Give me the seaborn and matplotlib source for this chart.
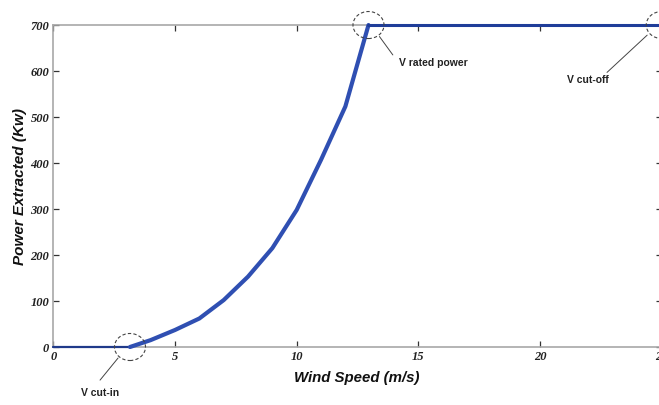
import numpy as np
import pandas as pd
import matplotlib
matplotlib.use("Agg")
import matplotlib.pyplot as plt
import seaborn as sns
from matplotlib.patches import Ellipse

# -------------------------------------------------------------
# data
# -------------------------------------------------------------
idle_speed = [0, 3.15]
idle_power = [0, 0]

ramp_speed = [3.15, 4, 5, 6, 7, 8, 9, 10, 11, 12, 12.95]
ramp_power = [0, 15, 37, 62, 102, 153, 215, 298, 407, 523, 700]

rated_speed = [12.95, 25]
rated_power = [700, 700]

x_ticks = [0, 5, 10, 15, 20, 25]
y_ticks = [0, 100, 200, 300, 400, 500, 600, 700]

# marked points: (label, x, y)
marks = [("V cut-in", 3.15, 0), ("V rated power", 12.95, 700), ("V cut-off", 25, 700)]

sns.set_theme(style="white")
plt.rcParams["font.family"] = ["Liberation Sans", "DejaVu Sans"]

fig = plt.figure(figsize=(6.59, 4.05), dpi=100)
ax = fig.add_axes([0.0809, 0.1432, 0.9233, 0.795])

df_idle = pd.DataFrame({"speed": idle_speed, "power": idle_power})
df_ramp = pd.DataFrame({"speed": ramp_speed, "power": ramp_power})
df_rated = pd.DataFrame({"speed": rated_speed, "power": rated_power})

sns.lineplot(data=df_idle, x="speed", y="power", ax=ax, color="#1f3a8a", lw=1.6,
             clip_on=False, zorder=3)
sns.lineplot(data=df_ramp, x="speed", y="power", ax=ax, color="#2f4fb2", lw=3.0,
             solid_joinstyle="miter", clip_on=False, zorder=3)
sns.lineplot(data=df_rated, x="speed", y="power", ax=ax, color="#1f3d99", lw=2.2,
             clip_on=False, zorder=3)

ax.set_xlim(0, 25)
ax.set_ylim(0, 700)
ax.set_xticks(x_ticks)
ax.set_yticks(y_ticks)

for s in ax.spines.values():
    s.set_visible(True)
    s.set_color("#a8a8a8")
    s.set_linewidth(1.2)

ax.tick_params(direction="in", length=4, width=0.9, color="#333333",
               top=True, right=True, bottom=True, left=True, pad=3)
for lab in ax.get_xticklabels() + ax.get_yticklabels():
    lab.set_fontfamily("Liberation Serif")
    lab.set_fontweight("bold")
    lab.set_fontstyle("italic")
    lab.set_fontsize(9)
    lab.set_color("#222222")

ax.set_xlabel("Wind Speed (m/s)", fontsize=10.8, fontweight="bold", fontstyle="italic",
              color="#111111")
ax.set_ylabel("Power Extracted (Kw)", fontsize=11, fontweight="bold", fontstyle="italic",
              color="#111111")
ax.xaxis.set_label_coords(0.498, -0.073)
ax.yaxis.set_label_coords(-0.043, 0.5)

# dashed circles around the marked points
w = 31 / 24.33
h = 27 / 0.4596
for label, x, y in marks:
    ax.add_patch(Ellipse((x, y), w, h, fill=False, ls=(0, (3, 2)), lw=0.8,
                         ec="#444444", clip_on=False, zorder=5))

# leader lines and labels
lead = dict(arrowstyle="-", color="#444444", lw=0.7, shrinkA=0, shrinkB=0)
ax.annotate("", xy=(2.66, -24), xytext=(1.92, -72), annotation_clip=False, arrowprops=lead)
ax.text(1.92, -100, "V cut-in", fontsize=7.5, fontweight="bold", color="#222222",
        ha="center", va="center", clip_on=False)

ax.annotate("", xy=(13.4, 675), xytext=(13.95, 635), annotation_clip=False, arrowprops=lead)
ax.text(15.6, 618, "V rated power", fontsize=7.5, fontweight="bold", color="#222222",
        ha="center", va="center")

ax.annotate("", xy=(24.4, 678), xytext=(22.75, 597), annotation_clip=False, arrowprops=lead)
ax.text(21.95, 581, "V cut-off", fontsize=7.5, fontweight="bold", color="#222222",
        ha="center", va="center")

fig.savefig("out.png", dpi=100)
